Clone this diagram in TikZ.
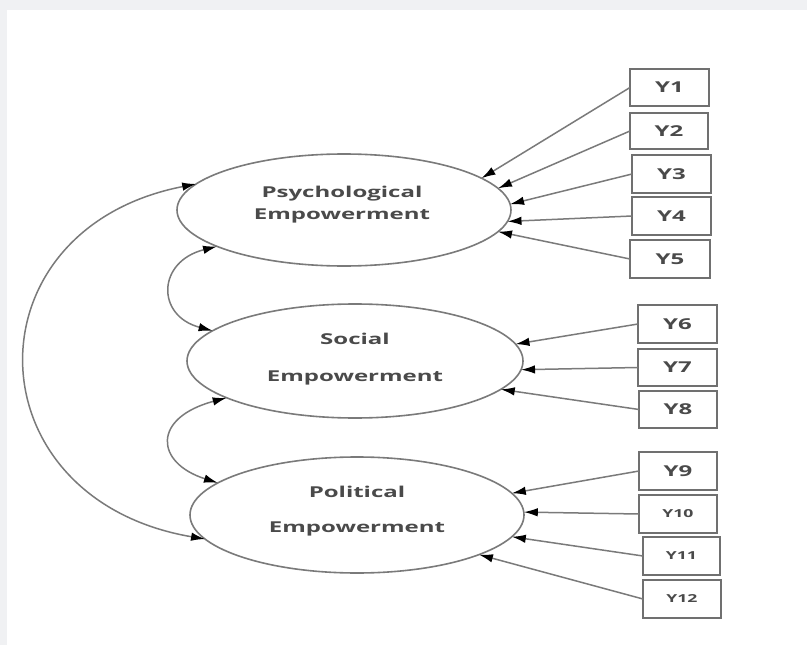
\documentclass[tikz,border=0pt]{standalone}
\usepackage{fontspec}
\usetikzlibrary{shapes.geometric,arrows.meta}
\newfontfamily\labfont[FakeStretch=1.6]{Open Sans}
\definecolor{bandgray}{HTML}{F0F1F3}
\definecolor{linegray}{HTML}{7A7A7A}
\definecolor{boxgray}{HTML}{707070}
\definecolor{txtgray}{HTML}{4A4A4A}
\tikzset{
 latent/.style={ellipse, draw=linegray, line width=1.6pt, inner sep=0pt, outer sep=0pt},
 ind/.style={rectangle, draw=boxgray, line width=2.2pt, inner sep=0pt, outer sep=0pt, minimum width=79pt, minimum height=37pt, font=\labfont\bfseries\fontsize{15pt}{18pt}\selectfont, text=txtgray},
 indsm/.style={ind, font=\labfont\bfseries\fontsize{11pt}{14pt}\selectfont},
 lbl/.style={align=center, text=txtgray, font=\labfont\bfseries\fontsize{15pt}{22pt}\selectfont, inner sep=0pt},
 ar/.style={draw=linegray, line width=1.5pt, -{Latex[length=14pt,width=8.5pt,color=black]}},
 dar/.style={draw=linegray, line width=1.5pt, {Latex[length=14pt,width=8.5pt,color=black]}-{Latex[length=14pt,width=8.5pt,color=black]}},
}
\begin{document}
\begin{tikzpicture}[x=1pt,y=-1pt]
\useasboundingbox (0,0) rectangle (807,645);
\fill[bandgray] (0,0) rectangle (807,645);
\fill[white] (7,10) rectangle (807,645);

% latent variables
\node[latent, minimum width=334pt, minimum height=112pt] (e1) at (344,210) {};
\node[latent, minimum width=336pt, minimum height=114pt] (e2) at (355,361) {};
\node[latent, minimum width=334pt, minimum height=116pt] (e3) at (357,515) {};

\node[lbl] (t1) at (342,205) {Psychological\\Empowerment};
\node[lbl] (t2) at (355,359) {Social\\[15pt]Empowerment};
\node[lbl] (t3) at (357,511) {Political\\[13pt]Empowerment};

% indicators
\node[ind, minimum width=79pt, minimum height=37pt] (y1) at (669.5,87.5) {Y1};
\node[ind, minimum width=78pt, minimum height=36pt] (y2) at (669,131) {Y2};
\node[ind, minimum width=79pt, minimum height=38pt] (y3) at (671.5,174) {Y3};
\node[ind, minimum width=79pt, minimum height=38pt] (y4) at (671.5,216) {Y4};
\node[ind, minimum width=80pt, minimum height=38pt] (y5) at (670,259) {Y5};
\node[ind, minimum width=79pt, minimum height=38pt] (y6) at (677.5,324) {Y6};
\node[ind, minimum width=79pt, minimum height=37pt] (y7) at (677.5,367.5) {Y7};
\node[ind, minimum width=78pt, minimum height=37pt] (y8) at (678,409.5) {Y8};
\node[ind, minimum width=78pt, minimum height=38pt] (y9) at (678,471) {Y9};
\node[indsm, minimum width=78pt, minimum height=38pt] (y10) at (678,514) {Y10};
\node[indsm, minimum width=77pt, minimum height=38pt] (y11) at (681.5,556) {Y11};
\node[indsm, minimum width=78pt, minimum height=38pt] (y12) at (682,599) {Y12};

% loadings
\draw[ar] (y1.west) -- (e1.13);
\draw[ar] (y2.west) -- (e1.8);
\draw[ar] (y3.west) -- (e1.2);
\draw[ar] (y4.west) -- (e1.-4);
\draw[ar] (y5.west) -- (e1.-8);
\draw[ar] (y6.west) -- (e2.6);
\draw[ar] (y7.west) -- (e2.-3);
\draw[ar] (y8.west) -- (e2.-11);
\draw[ar] (y9.west) -- (e3.8);
\draw[ar] (y10.west) -- (e3.1);
\draw[ar] (y11.west) -- (e3.-8);
\draw[ar] (y12.west) -- (e3.-18);

% covariances
\draw[dar] (e1.170) .. controls +(-231,45) and +(-235,-40) .. (e3.189);
\draw[dar] (e1.196) .. controls +(-60,15) and +(-57,-15) .. (e2.168);
\draw[dar] (e2.196) .. controls +(-75,20) and +(-63,-20) .. (e3.167);
\end{tikzpicture}
\end{document}
